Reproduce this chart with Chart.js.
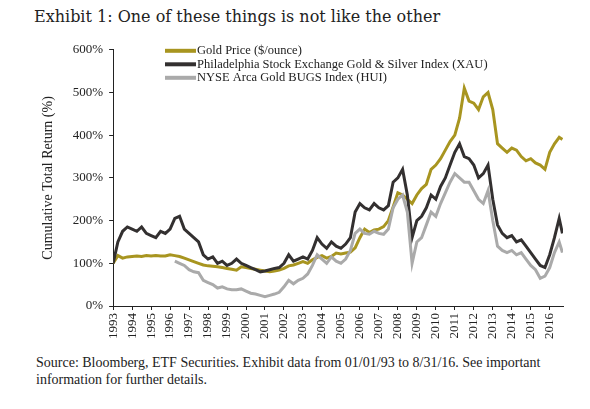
<!DOCTYPE html><html><head><meta charset="utf-8">
<script src="https://cdn.jsdelivr.net/npm/chart.js@4"></script>
<style>body{margin:0;background:#fff;width:590px;height:409px;position:relative;font-family:"Liberation Serif","DejaVu Serif",serif;}
#t{position:absolute;left:34px;top:7px;font-family:"DejaVu Serif",serif;font-size:16px;color:#222}
#s{position:absolute;left:36px;top:354px;font-size:14px;color:#222;line-height:17px;width:510px}
#w{position:absolute;left:0;top:36px;width:575px;height:306px}</style></head><body>
<div id="t">Exhibit 1: One of these things is not like the other</div>
<div id="w"><canvas id="c"></canvas></div>
<div id="s">Source: Bloomberg, ETF Securities. Exhibit data from 01/01/93 to 8/31/16. See important information for further details.</div>
<script>
const years=[1993,1994,1995,1996,1997,1998,1999,2000,2001,2002,2003,2004,2005,2006,2007,2008,2009,2010,2011,2012,2013,2014,2015,2016];
const gold=[100,118,112,115,116,117,116,118,117,118,117,117,120,118,116,112,108,104,100,96,94,93,92,90,88,86,84,92,90,88,86,84,82,80,82,84,88,94,96,100,104,100,108,114,118,112,116,124,122,124,126,136,160,180,172,178,180,186,200,232,265,260,250,240,260,275,285,320,330,345,365,385,400,440,510,480,475,460,490,500,460,380,370,360,370,365,350,340,345,335,330,320,360,380,395,390];
const xau=[100,150,175,185,180,175,185,170,165,160,175,170,180,205,210,180,170,160,150,120,110,115,100,105,95,100,110,100,95,90,85,80,82,85,88,90,100,120,105,110,115,110,130,160,145,135,150,140,135,145,160,220,240,230,225,240,230,225,235,290,300,320,260,160,200,210,230,260,250,280,300,330,360,380,350,345,330,300,310,330,250,190,170,160,165,150,155,140,125,110,95,90,120,160,205,170];
const hui=[null,null,null,null,null,null,null,null,null,null,null,null,null,105,100,95,85,80,78,60,55,50,42,45,40,38,38,40,35,30,28,25,22,25,28,32,45,60,52,60,65,75,95,120,110,100,115,105,100,110,130,170,180,170,168,175,170,168,180,230,250,260,220,100,150,160,190,220,210,240,265,290,310,300,290,290,270,250,240,270,200,140,130,125,130,120,125,110,95,85,65,70,90,125,150,125];
const yTicks=[0,100,200,300,400,500,600];
function pts(a){return a.map((v,i)=>({x:1993+i*0.25-(i==a.length-1?0.08:0),y:v}));}
const labels=['Gold Price ($/ounce)','Philadelphia Stock Exchange Gold & Silver Index (XAU)','NYSE Arca Gold BUGS Index (HUI)'];
const cols=['#a89520','#333030','#aaaaaa'];
const leg={id:'leg',afterDraw(ch){const c=ch.ctx;c.save();c.font='12.5px "Liberation Serif",serif';c.fillStyle='#222';c.textBaseline='middle';
labels.forEach((l,i)=>{const y=ch.chartArea.top+1+i*13.5;c.strokeStyle=cols[i];c.lineWidth=4;c.beginPath();c.moveTo(165,y);c.lineTo(196,y);c.stroke();c.fillText(l,197,y);});c.restore();}};
const F={family:'"Liberation Serif",serif',size:13};
new Chart(document.getElementById('c'),{type:'line',data:{datasets:[gold,xau,hui].map((d,i)=>({label:labels[i],data:pts(d),borderColor:cols[i],borderWidth:3,pointRadius:0,tension:0,order:i==0?2:(i==1?1:0)}))},
options:{responsive:true,maintainAspectRatio:false,animation:false,layout:{padding:{top:4,right:12,left:36}},plugins:{legend:{display:false},tooltip:{enabled:false}},
scales:{x:{type:'linear',min:1993,max:2016.7,afterBuildTicks(s){s.ticks=years.map(v=>({value:v}));},grid:{drawOnChartArea:false,tickLength:4,color:'#222'},border:{color:'#222'},ticks:{color:'#222',maxRotation:90,minRotation:90,font:F,callback:v=>String(v)}},
y:{min:0,max:600,afterBuildTicks(s){s.ticks=yTicks.map(v=>({value:v}));},grid:{drawOnChartArea:false,tickLength:4,color:'#222'},border:{color:'#222'},title:{display:true,text:'Cumulative Total Return (%)',color:'#222',padding:{bottom:10},font:{family:'"Liberation Serif",serif',size:14}},ticks:{color:'#222',padding:6,font:F,callback:v=>v+'%'}}}},plugins:[leg]});
</script></body></html>
